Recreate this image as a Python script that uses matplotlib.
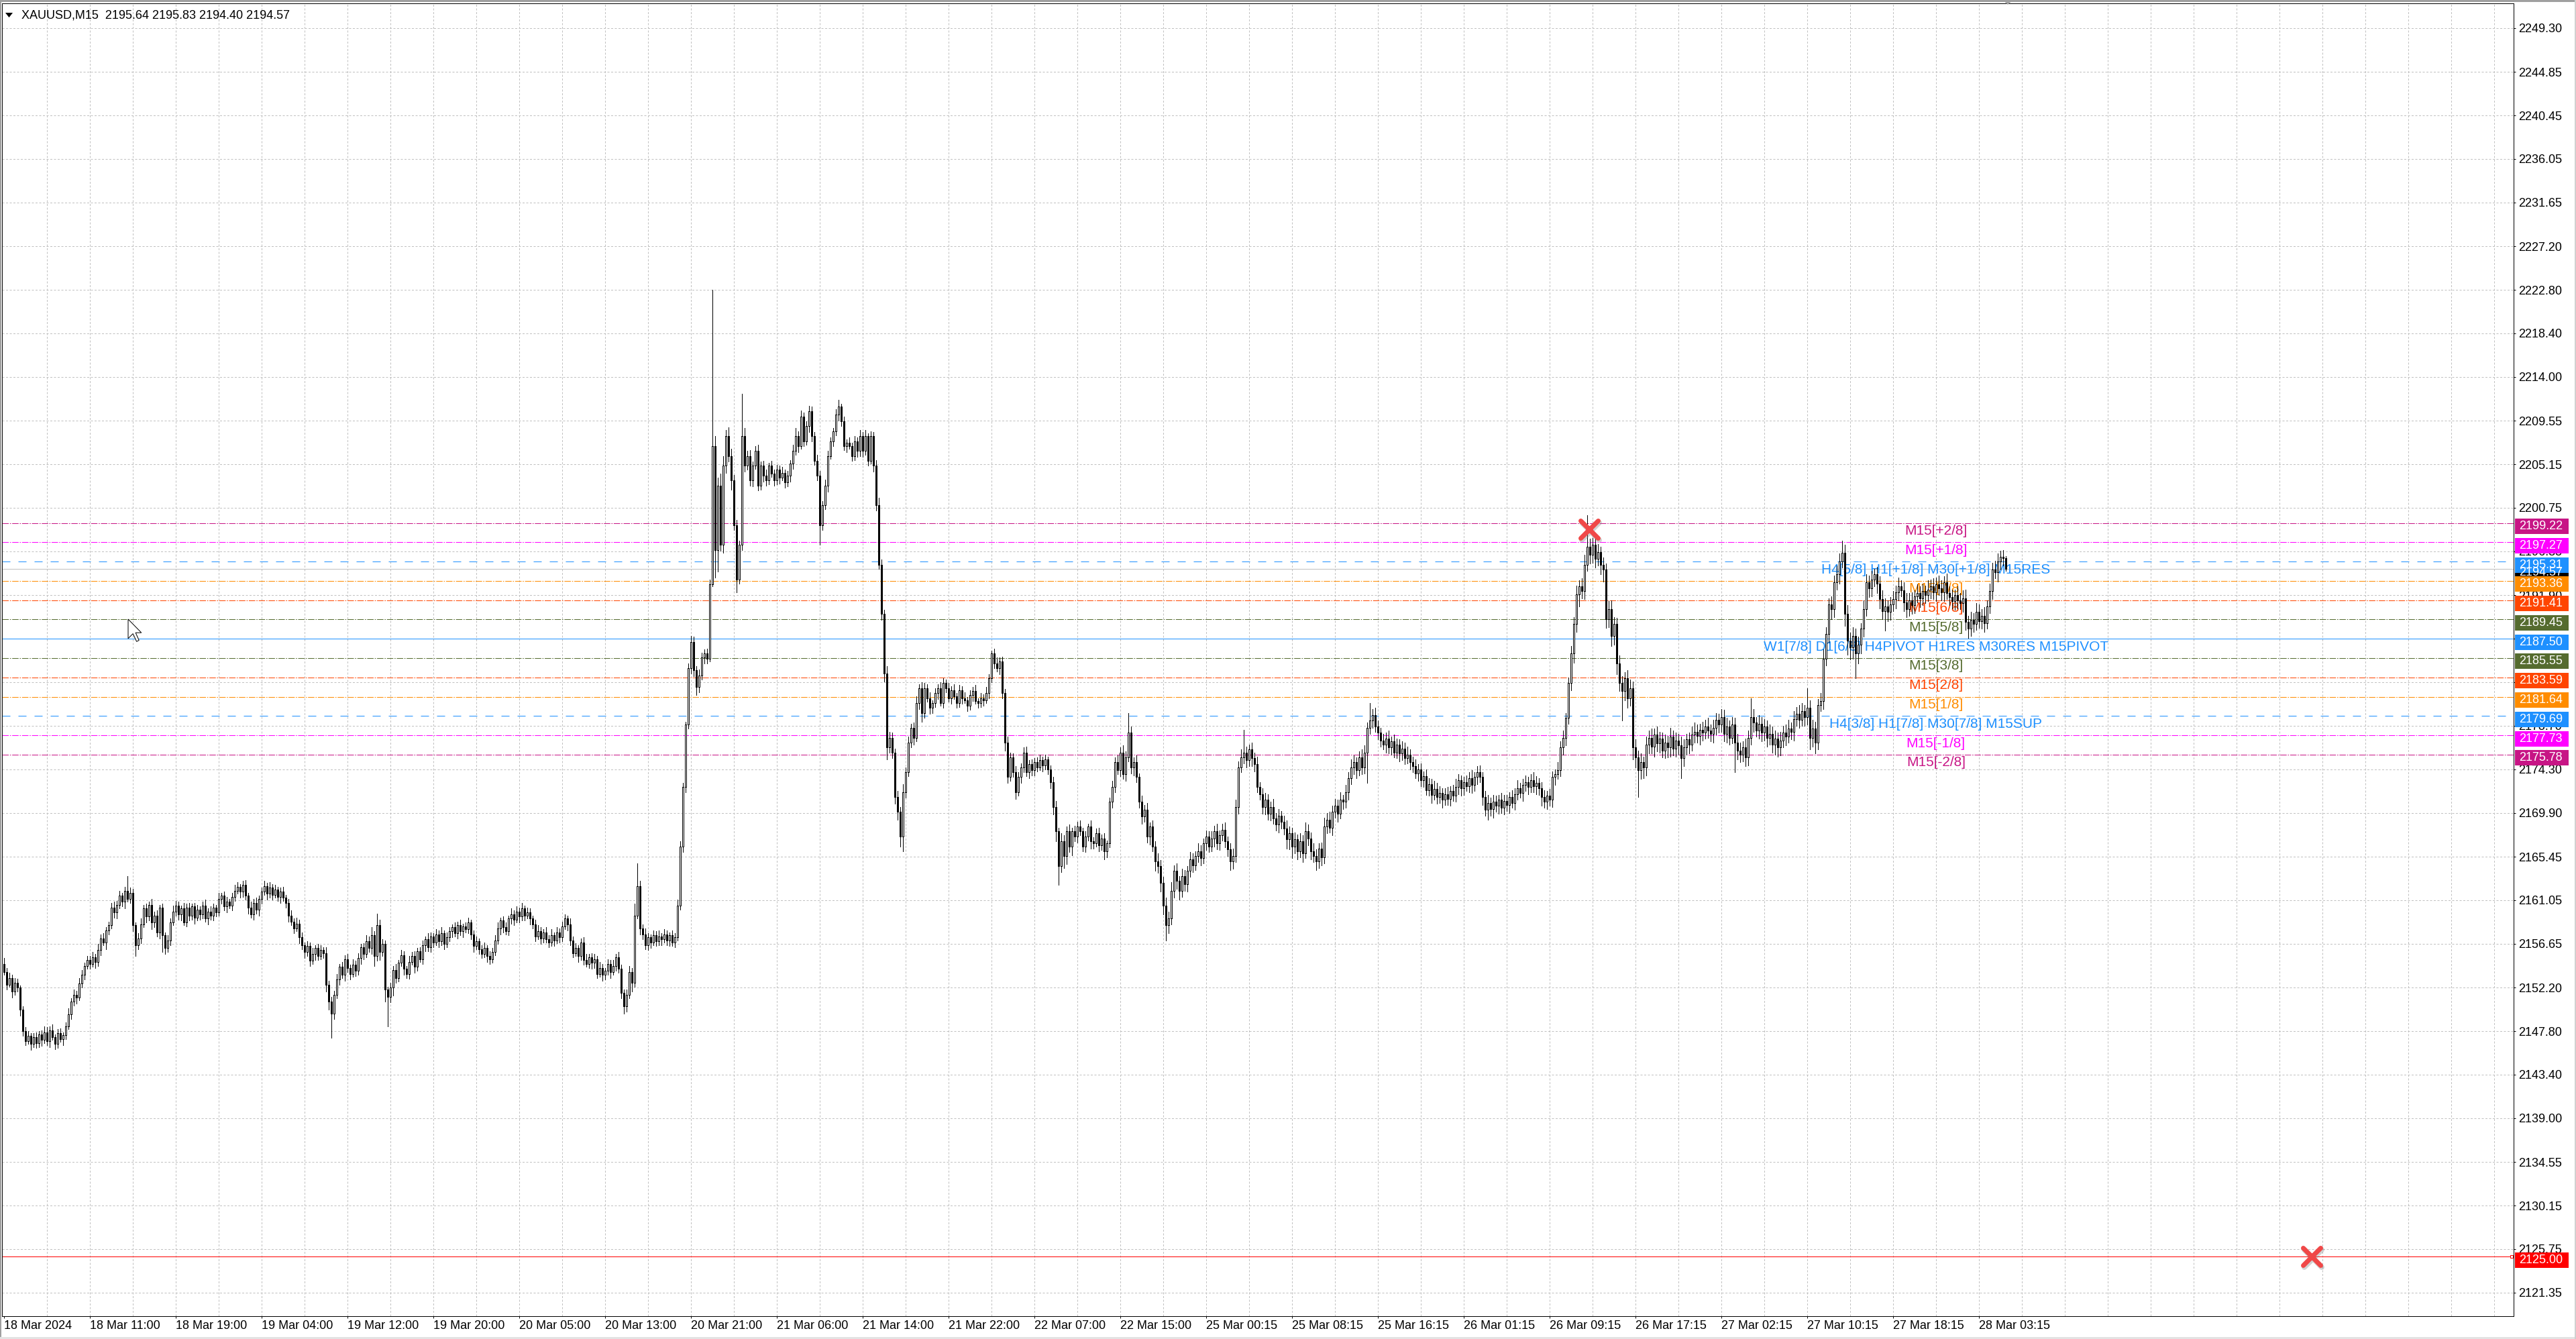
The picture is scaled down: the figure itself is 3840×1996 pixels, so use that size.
import matplotlib
matplotlib.use('Agg')
import matplotlib.pyplot as plt
from matplotlib.patches import Rectangle, Polygon
from matplotlib.markers import MarkerStyle
import matplotlib.transforms as mtrans
import numpy as np

plt.rcParams['lines.scale_dashes'] = False
plt.rcParams['font.family'] = ['Liberation Sans', 'DejaVu Sans']

# ---------------- data ----------------
TITLE = "XAUUSD,M15  2195.64 2195.83 2194.40 2194.57"
FIRST_OPEN = 2154.6
CLOSE = [
2153.8,2152.5,2153.2,2151.8,2152.7,2152.2,2150.0,2147.8,2146.8,2147.3,2146.5,2147.2,2146.6,2147.5,2146.9,2147.7,
2146.8,2147.9,2147.2,2146.5,2147.6,2147.0,2147.4,2148.3,2149.5,2150.8,2151.5,2151.2,2152.6,2153.5,2154.4,2155.0,
2154.6,2155.3,2154.8,2156.0,2157.2,2156.8,2158.0,2158.5,2160.3,2159.8,2160.6,2161.5,2160.9,2162.0,2161.2,2161.8,
2158.5,2156.5,2157.2,2158.6,2160.2,2159.4,2160.6,2158.8,2159.5,2157.8,2160.3,2157.5,2156.2,2157.0,2158.8,2159.9,
2160.5,2159.6,2160.2,2158.8,2160.3,2159.5,2160.4,2159.3,2160.1,2159.6,2160.5,2159.2,2159.9,2159.5,2160.3,2159.8,
2161.2,2161.5,2160.4,2160.9,2160.5,2161.4,2162.0,2162.4,2161.9,2162.6,2161.5,2160.3,2159.6,2160.8,2160.1,2161.2,
2161.9,2162.5,2161.7,2162.3,2161.6,2162.1,2161.4,2161.9,2161.3,2160.8,2159.5,2158.9,2158.2,2158.7,2157.3,2156.5,
2155.8,2156.4,2154.9,2155.6,2156.2,2155.4,2156.0,2155.7,2152.5,2150.8,2149.6,2151.5,2153.0,2154.3,2153.5,2155.1,
2154.2,2153.6,2154.5,2153.9,2155.2,2156.3,2155.6,2156.9,2156.2,2157.5,2155.4,2158.5,2155.8,2156.6,2152.0,2151.3,
2152.2,2154.0,2153.2,2154.7,2155.5,2154.1,2153.6,2154.8,2155.4,2154.3,2155.9,2155.1,2156.5,2157.1,2156.3,2157.4,
2156.8,2157.6,2156.9,2157.7,2156.6,2157.3,2157.9,2158.3,2157.7,2158.5,2157.9,2158.4,2158.1,2158.8,2157.6,2156.4,
2156.9,2156.1,2155.6,2156.2,2155.4,2155.1,2155.8,2157.0,2158.2,2159.0,2158.3,2157.9,2159.2,2159.6,2159.1,2159.9,
2159.4,2160.2,2159.5,2159.8,2159.2,2158.6,2157.4,2157.9,2157.2,2157.8,2157.1,2156.8,2157.5,2157.0,2157.8,2157.3,
2158.4,2159.2,2158.6,2157.0,2155.7,2156.2,2155.4,2156.8,2155.0,2154.6,2155.3,2154.7,2155.1,2153.6,2154.2,2153.5,
2153.9,2154.6,2153.8,2154.4,2155.3,2154.1,2151.7,2150.3,2151.5,2153.8,2152.7,2159.5,2162.5,2158.2,2157.6,2156.5,
2157.3,2156.8,2157.5,2156.9,2157.4,2157.1,2157.6,2157.0,2157.5,2156.8,2157.3,2160.5,2166.5,2172.5,2178.8,2184.5,
2187.2,2184.3,2182.6,2183.8,2185.6,2186.0,2185.5,2193.0,2207.0,2196.5,2203.0,2197.0,2205.0,2208.0,2206.0,2203.5,
2199.0,2193.5,2197.0,2208.0,2205.0,2206.0,2203.5,2205.0,2206.5,2203.0,2205.0,2204.0,2203.5,2205.0,2204.2,2203.5,
2204.6,2203.8,2204.3,2203.3,2204.0,2205.2,2206.5,2208.0,2207.0,2210.0,2207.5,2209.0,2210.5,2208.0,2205.5,2204.0,
2199.0,2201.0,2203.0,2206.0,2207.5,2208.5,2210.2,2211.0,2209.5,2207.0,2207.3,2207.0,2206.0,2207.5,2206.5,2208.0,
2206.5,2208.0,2205.5,2208.0,2205.0,2201.0,2195.0,2190.0,2184.0,2176.5,2177.5,2176.0,2171.5,2170.0,2167.5,2172.0,
2174.0,2177.0,2178.5,2177.5,2181.0,2182.5,2180.0,2182.5,2181.5,2180.5,2181.0,2182.0,2182.5,2181.0,2183.0,2182.5,
2181.5,2182.3,2181.7,2181.0,2182.3,2181.5,2181.3,2180.7,2181.8,2182.2,2181.2,2181.0,2181.5,2181.3,2182.0,2183.5,
2186.0,2185.0,2184.5,2185.2,2182.0,2177.0,2173.5,2175.5,2174.0,2172.0,2173.5,2174.5,2176.0,2174.0,2174.8,2174.2,
2175.0,2174.5,2175.2,2174.7,2175.3,2174.3,2173.0,2170.5,2168.0,2164.5,2167.0,2165.5,2168.0,2166.5,2168.0,2167.5,
2168.5,2168.0,2166.5,2167.5,2168.5,2167.0,2166.8,2167.8,2166.6,2167.3,2166.0,2166.8,2171.0,2172.5,2175.0,2174.2,
2176.0,2173.8,2175.5,2178.0,2174.5,2175.0,2173.5,2171.0,2169.5,2170.2,2167.5,2168.5,2166.5,2165.0,2164.5,2162.8,
2160.5,2158.5,2159.2,2162.0,2164.0,2163.0,2162.0,2163.5,2162.7,2164.0,2165.2,2164.6,2165.5,2166.0,2165.3,2166.8,
2167.5,2166.5,2167.3,2168.0,2166.8,2167.6,2168.2,2167.0,2166.2,2165.0,2165.5,2170.5,2174.5,2175.5,2176.0,2175.2,
2176.3,2175.4,2174.8,2172.5,2171.8,2170.5,2171.2,2169.8,2170.5,2169.3,2168.7,2169.6,2169.0,2168.3,2167.2,2167.8,
2166.5,2167.2,2166.0,2167.0,2165.8,2168.0,2167.3,2166.0,2165.5,2165.0,2166.3,2165.4,2168.5,2169.2,2168.4,2170.0,
2170.6,2169.8,2171.2,2171.0,2172.0,2173.4,2174.5,2175.0,2174.2,2175.5,2174.5,2176.0,2178.5,2179.2,2179.8,2178.6,
2178.0,2177.2,2176.8,2177.4,2176.5,2177.1,2176.0,2176.8,2175.9,2176.4,2175.4,2175.8,2175.0,2174.6,2173.9,2174.3,
2173.2,2173.6,2172.2,2172.8,2171.7,2172.3,2171.5,2171.9,2171.2,2171.8,2171.3,2172.1,2171.6,2172.5,2173.2,2172.4,
2173.0,2172.6,2173.4,2172.7,2173.5,2174.0,2173.5,2171.5,2170.2,2170.9,2170.3,2171.0,2170.6,2171.2,2170.4,2171.1,
2170.7,2171.5,2170.9,2171.8,2172.4,2171.9,2172.7,2173.0,2172.5,2173.2,2172.6,2172.9,2172.4,2171.5,2171.0,2171.6,
2171.2,2173.5,2173.8,2174.2,2176.5,2177.5,2179.5,2183.0,2186.0,2189.0,2192.0,2192.8,2192.3,2195.0,2196.8,2196.0,
2197.0,2195.6,2196.3,2195.0,2194.5,2189.5,2190.5,2187.8,2189.0,2185.0,2183.0,2182.2,2183.5,2181.5,2182.5,2176.5,
2175.5,2174.2,2175.0,2174.5,2176.8,2177.5,2176.6,2177.8,2176.9,2177.4,2176.2,2177.0,2176.5,2177.6,2176.4,2177.2,
2176.7,2175.4,2176.5,2177.3,2176.8,2177.8,2178.1,2177.7,2178.3,2178.0,2178.6,2178.2,2177.9,2178.5,2179.3,2178.8,
2179.6,2177.9,2178.6,2177.5,2178.8,2177.0,2176.2,2175.8,2176.5,2175.5,2177.5,2179.6,2179.0,2178.2,2178.9,2178.0,
2178.6,2177.5,2177.9,2176.8,2177.4,2176.5,2177.2,2178.0,2177.6,2178.4,2178.1,2179.4,2179.9,2179.3,2180.2,2179.6,
2180.5,2177.5,2178.4,2177.0,2180.8,2181.2,2185.5,2188.0,2191.0,2190.5,2193.2,2194.0,2195.3,2196.2,2190.0,2187.3,
2186.6,2187.8,2186.0,2186.9,2188.5,2190.5,2193.2,2192.6,2193.5,2194.0,2193.1,2191.5,2190.3,2190.8,2190.2,2191.0,
2191.5,2192.2,2192.8,2192.4,2191.2,2190.5,2191.4,2190.9,2191.8,2192.1,2191.6,2192.3,2191.9,2192.5,2192.8,2192.2,
2193.0,2192.6,2192.2,2193.2,2192.1,2191.7,2191.3,2191.9,2191.4,2191.1,2191.6,2189.2,2188.5,2189.4,2189.0,2190.2,
2189.3,2189.8,2189.1,2190.8,2192.3,2194.5,2194.2,2195.3,2195.8,2195.64,2194.57]
# wick lengths above / below the candle body, in tenths of a dollar
UP_WICK = [
6,4,5,3,5,4,2,3,4,5,3,4,5,3,4,6,
5,4,6,3,4,5,3,4,6,3,5,4,6,5,3,4,
4,5,3,6,4,5,3,4,5,6,4,5,3,4,15,5,
4,3,5,6,4,5,3,6,4,5,3,4,3,5,4,6,
5,4,3,6,4,5,3,4,5,3,4,6,3,5,4,3,
6,3,4,5,3,4,6,5,3,4,5,3,6,4,5,3,
4,5,3,6,4,5,3,4,5,3,4,5,3,6,4,5,
3,5,4,6,3,4,5,3,6,4,5,4,6,3,5,4,
5,3,6,4,5,3,4,6,5,8,4,12,6,5,4,3,
5,4,6,3,5,4,3,6,4,5,3,4,5,3,6,4,
3,5,4,6,3,5,4,3,5,4,6,3,4,5,3,4,
5,3,4,6,3,5,4,5,6,3,4,5,3,6,4,5,
4,6,3,5,4,3,5,6,4,3,5,4,6,3,5,4,
5,4,3,6,4,5,3,4,5,6,3,4,5,3,6,4,
3,5,4,6,3,5,4,3,5,6,4,12,23,5,4,6,
4,3,5,4,6,3,5,4,3,5,4,6,5,4,3,5,
6,5,4,6,5,4,5,5,158,10,8,12,10,6,9,7,
6,5,4,43,8,5,6,4,5,6,4,5,6,3,5,4,
5,4,6,3,5,4,6,8,5,6,4,5,6,5,4,6,
5,4,6,5,4,3,5,7,3,5,4,6,3,5,4,6,
4,6,3,5,4,6,8,5,4,7,6,5,4,6,5,8,
5,6,4,5,7,4,6,5,4,6,3,5,4,6,5,4,
5,4,6,3,5,4,6,3,5,4,6,3,5,4,6,4,
3,5,6,4,5,4,6,5,4,6,5,4,5,6,4,5,
4,5,6,4,5,3,4,5,6,4,8,6,5,7,4,6,
5,6,4,5,3,6,4,5,6,4,5,3,4,6,5,7,
5,7,6,20,6,5,7,4,6,5,7,4,6,5,8,6,
6,8,7,9,6,8,5,7,6,5,7,6,5,8,6,5,
6,5,7,6,8,5,6,7,5,6,8,7,6,8,23,6,
5,7,6,8,5,6,7,6,5,8,6,7,5,6,8,7,
6,7,5,8,6,9,7,6,8,7,5,6,9,7,8,6,
7,6,8,5,7,6,8,7,5,6,8,7,5,18,6,7,
6,5,7,6,8,5,7,6,5,7,6,8,5,6,7,5,
6,5,7,6,5,8,6,7,5,6,7,5,6,8,6,5,
5,7,6,8,5,6,7,5,6,8,5,7,6,5,7,6,
6,5,7,6,8,5,6,7,5,6,8,7,5,6,7,5,
7,6,5,8,6,7,5,6,8,7,9,6,8,10,32,8,
7,6,8,5,7,6,8,9,7,6,8,7,6,8,9,7,
8,7,9,6,8,7,9,6,8,7,6,8,7,9,6,8,
7,9,8,6,7,8,9,7,6,8,7,9,6,8,7,6,
8,7,9,6,8,7,9,8,6,9,7,19,8,6,9,7,
8,6,9,7,8,6,9,7,8,9,6,8,7,9,8,6,
20,8,9,7,6,8,9,7,6,8,7,9,8,12,8,9,
8,9,7,8,6,9,8,7,9,6,8,7,9,8,6,7,
8,7,9,6,8,9,7,8,6,9,7,8,6,9,7,8,
7,9,8,6,9,7,8,6,9,7,8,9,6,8,7,9,
8,7,9,6,8,7,9,8,6,7,2]
DN_WICK = [
3,5,2,6,3,4,6,5,4,3,6,3,5,4,6,3,
4,6,3,5,4,3,6,4,3,5,4,6,3,4,5,3,
5,3,6,4,5,3,7,4,3,5,6,4,5,7,3,4,
6,11,4,5,3,6,4,7,5,4,6,17,6,4,5,3,
4,5,6,3,4,5,4,6,3,5,4,3,6,4,5,4,
3,5,4,6,3,5,4,3,6,5,4,6,3,5,4,6,
5,3,6,4,5,3,4,6,3,5,6,4,5,3,6,4,
6,4,5,3,6,4,3,5,7,8,25,6,4,5,3,6,
4,6,3,5,4,6,5,3,4,6,10,5,8,4,12,30,
6,8,5,4,3,6,4,5,3,6,4,3,5,6,4,5,
5,3,6,4,5,3,4,6,3,5,4,6,3,4,5,6,
3,5,4,3,6,5,4,3,4,6,5,3,4,5,6,3,
6,4,5,3,6,4,5,3,6,4,3,5,4,6,3,5,
4,3,6,5,4,3,6,4,5,3,4,6,5,4,3,6,
5,4,6,3,5,4,6,7,5,4,9,4,3,6,5,4,
5,6,3,5,4,6,3,5,6,4,5,3,4,6,5,4,
5,6,8,5,4,6,5,3,2,28,22,6,8,7,6,9,
5,13,4,5,6,4,5,6,3,5,4,6,5,4,3,5,
4,6,3,5,4,6,5,4,6,3,5,4,6,5,4,5,
20,5,4,6,3,5,4,6,5,4,6,3,5,4,6,5,
6,4,5,3,6,5,4,6,8,12,5,6,7,8,10,15,
6,4,5,7,4,6,9,5,4,6,5,4,6,3,5,4,
4,6,3,5,4,6,3,5,4,6,3,5,4,6,3,5,
4,5,3,6,5,8,6,4,5,7,4,6,5,4,6,5,
5,4,3,6,4,5,6,8,10,19,6,12,8,6,9,5,
6,4,5,6,4,7,5,3,6,5,8,6,4,6,5,4,
6,5,7,4,6,8,5,6,7,5,6,8,5,10,7,9,
9,15,8,6,7,8,9,6,7,8,6,7,5,6,7,5,
7,6,5,8,6,7,5,6,7,9,8,6,7,5,6,7,
6,8,7,5,6,7,8,6,7,5,6,8,7,6,9,10,
12,7,8,6,9,5,7,8,6,9,7,8,6,7,5,8,
6,8,5,7,6,8,6,7,8,5,7,6,31,6,7,5,
7,6,5,8,6,7,5,6,8,7,6,5,7,6,5,8,
6,7,5,6,8,5,7,6,8,5,6,7,5,6,7,8,
7,5,6,8,6,7,5,8,6,10,7,9,6,8,5,7,
6,8,5,7,6,5,8,6,7,5,6,8,7,9,6,7,
6,7,8,5,6,7,8,6,7,9,8,12,7,8,6,9,
8,9,7,10,12,9,8,10,9,11,8,30,9,10,8,12,
10,27,9,11,8,9,7,10,8,9,7,8,10,9,7,8,
9,20,8,7,9,6,8,7,9,8,6,7,8,9,7,8,
7,8,9,7,6,30,9,8,7,9,8,7,9,6,8,9,
8,9,7,8,10,9,8,7,9,6,8,9,7,8,6,9,
8,12,9,11,7,6,8,7,9,10,8,7,9,6,12,14,
12,11,25,10,9,8,7,9,8,7,10,9,8,20,9,8,
7,9,8,6,9,8,7,9,8,6,9,7,8,6,9,7,
9,7,8,9,6,8,7,9,8,6,9,8,9,7,8,6,
7,8,9,6,7,8,6,9,8,7,2]

X_TICK_LABELS = ["18 Mar 2024", "18 Mar 11:00", "18 Mar 19:00", "19 Mar 04:00", "19 Mar 12:00",
                 "19 Mar 20:00", "20 Mar 05:00", "20 Mar 13:00", "20 Mar 21:00", "21 Mar 06:00",
                 "21 Mar 14:00", "21 Mar 22:00", "22 Mar 07:00", "22 Mar 15:00", "25 Mar 00:15",
                 "25 Mar 08:15", "25 Mar 16:15", "26 Mar 01:15", "26 Mar 09:15", "26 Mar 17:15",
                 "27 Mar 02:15", "27 Mar 10:15", "27 Mar 18:15", "28 Mar 03:15"]
Y_TICK_LABELS = ["2249.30", "2244.85", "2240.45", "2236.05", "2231.65", "2227.20", "2222.80",
                 "2218.40", "2214.00", "2209.55", "2205.15", "2200.75", "2196.35", "2191.90",
                 "2187.50", "2183.10", "2178.70", "2174.30", "2169.90", "2165.45", "2161.05",
                 "2156.65", "2152.20", "2147.80", "2143.40", "2139.00", "2134.55", "2130.15",
                 "2125.75", "2121.35"]

LEVEL_PRICES = [2199.22, 2197.27, 2195.31, 2193.36, 2191.41, 2189.45, 2187.50,
                2185.55, 2183.59, 2181.64, 2179.69, 2177.73, 2175.78]
LEVEL_NAMES = ["M15[+2/8]", "M15[+1/8]", "H4[5/8] H1[+1/8] M30[+1/8] M15RES", "M15[7/8]",
               "M15[6/8]", "M15[5/8]", "W1[7/8] D1[6/8] H4PIVOT H1RES M30RES M15PIVOT",
               "M15[3/8]", "M15[2/8]", "M15[1/8]", "H4[3/8] H1[7/8] M30[7/8] M15SUP",
               "M15[-1/8]", "M15[-2/8]"]
LEVEL_COLORS = ["#C71585", "#FF00FF", "#1E90FF", "#FF8C00", "#FF4500", "#556B2F", "#1E90FF",
                "#556B2F", "#FF4500", "#FF8C00", "#1E90FF", "#FF00FF", "#C71585"]
LEVEL_STYLES = ["dashdot", "dashdot", "dash", "dashdot", "dashdot", "dashdot", "solid",
                "dashdot", "dashdot", "dashdot", "dash", "dashdot", "dashdot"]
BID_PRICE = 2194.57
ALERT_PRICE = 2125.00
MARK_BARS = [590.8, 860.0]
MARK_PRICES = [2198.6, 2125.0]
LABEL_BAR = 720

assert len(CLOSE) == len(UP_WICK) == len(DN_WICK), (len(CLOSE), len(UP_WICK), len(DN_WICK))

# ---------------- geometry ----------------
W, H, DPI = 3840, 1996, 100
PT = 72.0 / DPI            # points per pixel
AX_L, AX_R, AX_T, AX_B = 3.0, 3747.0, 4.6, 1962.0
PX_PER_USD = 14.733
REF_PRICE, REF_Y = 2249.30, 41.7

fig = plt.figure(figsize=(W / DPI, H / DPI), dpi=DPI, facecolor='white')
ax = fig.add_axes([AX_L / W, (H - AX_B) / H, (AX_R - AX_L) / W, (AX_B - AX_T) / H])
ax.set_facecolor('white')
ax.set_xlim((AX_L - 5.8) / 4.0, (AX_R - 5.8) / 4.0)
ax.set_ylim(REF_PRICE - (AX_B - REF_Y) / PX_PER_USD, REF_PRICE + (REF_Y - AX_T) / PX_PER_USD)

for s in ax.spines.values():
    s.set_color('black')
    s.set_linewidth(1.0 * PT)

# grid
grid_ls = (0, (3 * PT, 2.5 * PT))
ytick_vals = [float(v) for v in Y_TICK_LABELS]
for v in ytick_vals:
    ax.axhline(v, color='#C0C0C0', lw=1.0 * PT, ls=grid_ls, zorder=0.6)
for gx in range(16, 936, 16):
    ax.axvline(gx, color='#C0C0C0', lw=1.0 * PT, ls=grid_ls, zorder=0.6)

# ticks
ax.yaxis.tick_right()
ax.set_yticks(ytick_vals)
ax.set_yticklabels(Y_TICK_LABELS)
ax.tick_params(axis='y', length=3 * PT, width=1.0 * PT, pad=4.5 * PT, labelsize=13, colors='black')
xt = [32 * k for k in range(len(X_TICK_LABELS))]
ax.set_xticks(xt)
ax.set_xticklabels(X_TICK_LABELS)
ax.tick_params(axis='x', length=3 * PT, width=1.0 * PT, pad=3 * PT, labelsize=13, colors='black')
for t in ax.get_xticklabels():
    t.set_horizontalalignment('left')

# level lines
styles = {"dashdot": (0, (9.5 * PT, 1.8 * PT, 1.6 * PT, 1.8 * PT)),
          "dash": (0, (12 * PT, 12 * PT)),
          "solid": "-"}
for p, c, st in zip(LEVEL_PRICES, LEVEL_COLORS, LEVEL_STYLES):
    ax.axhline(p, color=c, lw=1.0 * PT, ls=styles[st], zorder=1)
ax.axhline(BID_PRICE, color='#C0C0C0', lw=1.0 * PT, zorder=1)
ax.axhline(ALERT_PRICE, color='#FF0000', lw=1.0 * PT, zorder=1)
# small selection square at the right end of the alert line
ax.plot([(AX_R - 3 - 5.8) / 4.0], [ALERT_PRICE], marker='s', markersize=4 * PT,
        mfc='white', mec='#FF0000', mew=1.0 * PT, ls='none', zorder=2)

for p, c, name in zip(LEVEL_PRICES, LEVEL_COLORS, LEVEL_NAMES):
    ax.annotate(name, xy=(LABEL_BAR, p), xytext=(0, -12 * PT), textcoords='offset points',
                ha='center', va='center', color=c, fontsize=15, zorder=2)

# candles
C = np.array(CLOSE, dtype=float)
O = np.concatenate([[FIRST_OPEN], C[:-1]])
top = np.maximum(O, C)
bot = np.minimum(O, C)
HI = top + np.array(UP_WICK) / 10.0
LO = bot - np.array(DN_WICK) / 10.0
x = np.arange(len(C))
ax.vlines(x, LO, HI, color='black', lw=1.0 * PT, zorder=3, antialiased=False)
bull = C >= O
ax.bar(x[bull], (C - O)[bull], bottom=O[bull], width=0.5, facecolor='white',
       edgecolor='black', lw=1.0 * PT, zorder=4, antialiased=False)
ax.bar(x[~bull], (O - C)[~bull], bottom=C[~bull], width=0.5, facecolor='black',
       edgecolor='black', lw=1.0 * PT, zorder=4, antialiased=False)

# alert crosses (with soft shadow)
xm = MarkerStyle('x', capstyle='round')
shadow = mtrans.offset_copy(ax.transData, fig=fig, x=2 * PT, y=-3 * PT, units='points')
ax.plot(MARK_BARS, MARK_PRICES, ls='none', marker=xm, markersize=27 * PT,
        mew=8 * PT, color='#808080', alpha=0.35, zorder=6.5, clip_on=False, transform=shadow)
ax.plot(MARK_BARS, MARK_PRICES, ls='none', marker=xm, markersize=27 * PT,
        mew=7 * PT, color='#F04848', zorder=7, clip_on=False)

# right-axis price boxes (box centre sits 5 px below the price line, as in MT4)
trans = mtrans.blended_transform_factory(fig.transFigure, ax.transData)
box_h = 23.0 / PX_PER_USD
box_shift = 5.0 / PX_PER_USD
def price_box(p, face, txt):
    yc = p - box_shift
    ax.add_patch(Rectangle((3748.5 / W, yc - box_h / 2), 80.0 / W, box_h, transform=trans,
                           facecolor=face, edgecolor='none', clip_on=False, zorder=5))
    ax.text(3755.0 / W, yc, txt, transform=trans, color='white', fontsize=13,
            va='center', ha='left', zorder=6, clip_on=False)

price_box(BID_PRICE, 'black', f"{BID_PRICE:.2f}")
for p, c in zip(LEVEL_PRICES, LEVEL_COLORS):
    price_box(p, c, f"{p:.2f}")
price_box(ALERT_PRICE, '#FF0000', f"{ALERT_PRICE:.2f}")

# title
fig.text(32.5 / W, 1 - 23.0 / H, TITLE, fontsize=13, va='center', ha='left', color='black')
fig.patches.append(Polygon([[8 / W, 1 - 19 / H], [19 / W, 1 - 19 / H], [13.5 / W, 1 - 26 / H]],
                           closed=True, transform=fig.transFigure, facecolor='black',
                           edgecolor='none'))

# window chrome
def fig_rect(x0, y0, w, h, col):
    fig.patches.append(Rectangle((x0 / W, 1 - (y0 + h) / H), w / W, h / H,
                                 transform=fig.transFigure, facecolor=col, edgecolor='none'))
fig_rect(0, 0, W, 2.5, '#A0A0A0')
fig_rect(0, 0, 1.5, H, '#A0A0A0')
fig_rect(0, H - 3, W, 3, '#E3E3E3')
fig_rect(W - 2, 0, 2, H, '#D0D0D0')
fig.patches.append(Polygon([[2985 / W, 1.0], [3001 / W, 1.0], [2993 / W, 1 - 7 / H]],
                           closed=True, transform=fig.transFigure, facecolor='#A0A0A0',
                           edgecolor='none'))
# mouse pointer
cx, cy, s = 191.0, 923.0, 1.8
arrow = [(0, 0), (0, 16), (4, 12), (7, 18.5), (9, 17.5), (6.2, 11.2), (11, 11.2)]
fig.patches.append(Polygon([[(cx + s * a) / W, 1 - (cy + s * b) / H] for a, b in arrow],
                           closed=True, transform=fig.transFigure, facecolor='white',
                           edgecolor='black', lw=1.0 * PT, zorder=10))

fig.savefig('out.png', dpi=DPI, facecolor='white')
